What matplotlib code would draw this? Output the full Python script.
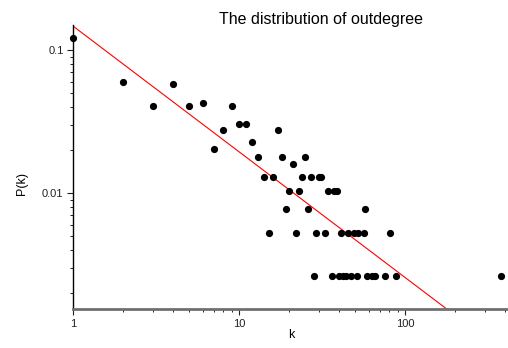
import numpy as np
import matplotlib.pyplot as plt
from matplotlib.ticker import LogLocator, FixedLocator, NullFormatter

plt.rcParams['font.family'] = ['Liberation Sans', 'DejaVu Sans']

# outdegree k and its probability P(k)
k = [1, 2, 3, 4, 5, 6, 7, 8, 9, 10, 11, 12, 13, 14, 15, 16, 17, 18, 19, 20,
     21, 22, 23, 24, 25, 26, 27, 28, 29, 30, 31, 33, 34, 36, 37, 39, 40, 41, 42,
     44, 45, 47, 49, 51, 52, 56, 57, 59, 63, 66, 75, 81, 88, 377]
pk = [0.122, 0.060, 0.0406, 0.0578, 0.0406, 0.0431, 0.0204, 0.0279, 0.0406, 0.0304,
      0.0304, 0.0230, 0.0179, 0.0129, 0.00525, 0.0129, 0.0279, 0.0179, 0.00773, 0.0103,
      0.0159, 0.00525, 0.0103, 0.0129, 0.0179, 0.00773, 0.0129, 0.00263, 0.00525, 0.0129,
      0.0129, 0.00525, 0.0103, 0.00263, 0.0103, 0.0103, 0.00263, 0.00525, 0.00263,
      0.00263, 0.00525, 0.00263, 0.00525, 0.00263, 0.00525, 0.00525, 0.00773, 0.00263,
      0.00263, 0.00263, 0.00263, 0.00525, 0.00263, 0.00263]

# power-law fit line P(k) = a * k^b
fit_a = 0.147
fit_b = -0.879

fig = plt.figure(figsize=(5.08, 3.48), dpi=100)
ax = fig.add_axes([0.1443, 0.112, 0.854, 0.816])

kk = np.array([1, 410])
ax.plot(kk, fit_a * kk ** fit_b, color='red', lw=0.8, zorder=2)
ax.plot(k, pk, 'o', color='black', ms=5.2, mec='none', zorder=3, clip_on=False)

ax.set_xscale('log')
ax.set_yscale('log')
ax.set_xlim(1, 410)
ax.set_ylim(0.00155, 0.15)

ax.xaxis.set_major_locator(FixedLocator([1, 10, 100]))
ax.set_xticklabels(['1', '10', '100'])
ax.yaxis.set_major_locator(FixedLocator([0.01, 0.1]))
ax.set_yticklabels(['0.01', '0.1'])
ax.xaxis.set_minor_locator(LogLocator(base=10, subs=np.arange(2, 10)))
ax.yaxis.set_minor_locator(LogLocator(base=10, subs=np.arange(2, 10)))
ax.xaxis.set_minor_formatter(NullFormatter())
ax.yaxis.set_minor_formatter(NullFormatter())

ax.tick_params(which='major', direction='out', length=4, width=0.8, labelsize=8,
               colors='#222222', pad=3)
ax.tick_params(which='minor', direction='out', length=2.5, width=0.7, colors='#222222')

ax.spines['top'].set_visible(False)
ax.spines['right'].set_visible(False)
ax.spines['left'].set_linewidth(1.0)
ax.spines['left'].set_color('black')
ax.spines['bottom'].set_linewidth(2.0)
ax.spines['bottom'].set_color('#707070')

fig.text(0.632, 0.945, 'The distribution of outdegree', ha='center', va='center',
         fontsize=11.5, color='black')
fig.text(0.573, 0.036, 'k', ha='center', va='center', fontsize=9)
fig.text(0.043, 0.474, 'P(k)', ha='center', va='center', rotation=90, fontsize=9)

fig.savefig('out.png', dpi=100)
